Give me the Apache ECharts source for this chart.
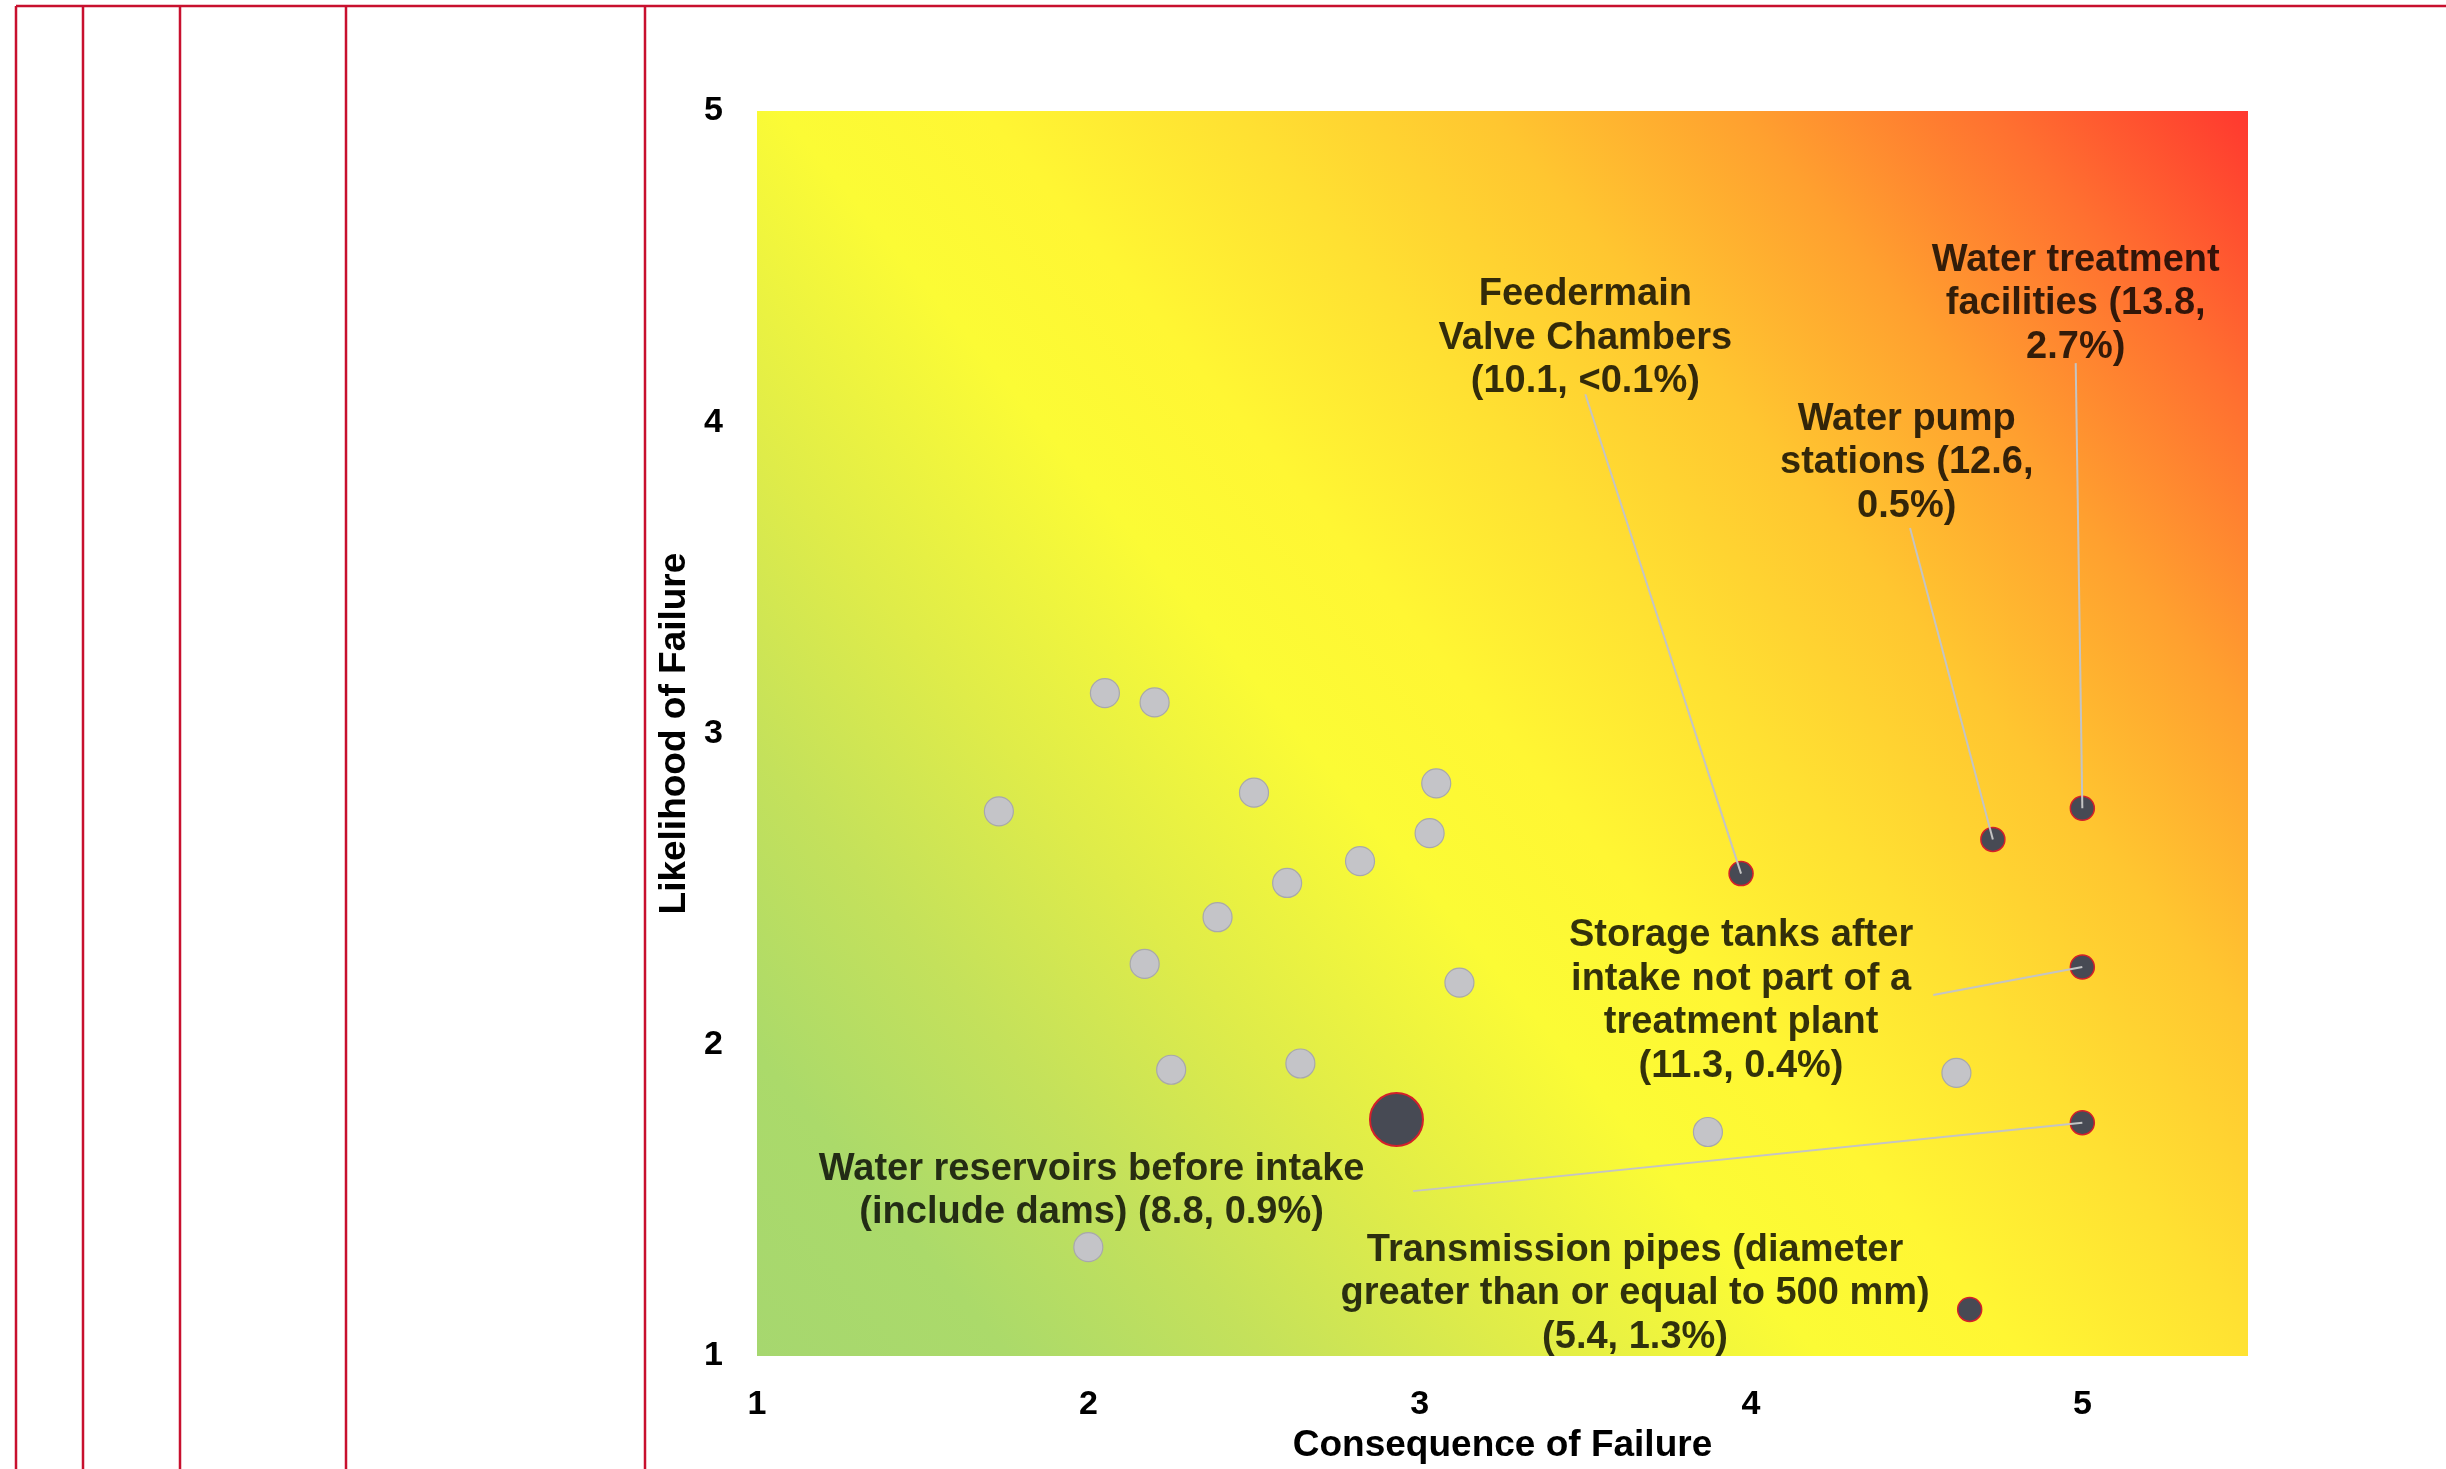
<!DOCTYPE html>
<html>
<head>
<meta charset="utf-8">
<script src="https://cdn.jsdelivr.net/npm/echarts@6/dist/echarts.min.js"></script>
<style>
html,body{margin:0;padding:0;background:#fff;}
#chart{width:2446px;height:1469px;}
</style>
</head>
<body>
<div id="chart"></div>
<script>
// ---- data ----
const xAxisTitle = 'Consequence of Failure';
const yAxisTitle = 'Likelihood of Failure';
const tickValues = [1, 2, 3, 4, 5];

// other assets (grey dots)
const otherX = [1.73, 2.05, 2.20, 2.50, 3.05, 3.03, 2.82, 2.60, 2.39, 2.17, 3.12, 2.25, 2.64, 3.87, 4.62, 2.00];
const otherY = [2.75, 3.13, 3.10, 2.81, 2.84, 2.68, 2.59, 2.52, 2.41, 2.26, 2.20, 1.92, 1.94, 1.72, 1.91, 1.35];

// highlighted assets (dark dots)
const keyNames = [
  'Feedermain\nValve Chambers\n(10.1, <0.1%)',
  'Water pump\nstations (12.6,\n0.5%)',
  'Water treatment\nfacilities (13.8,\n2.7%)',
  'Storage tanks after\nintake not part of a\ntreatment plant\n(11.3, 0.4%)',
  'Water reservoirs before intake\n(include dams) (8.8, 0.9%)',
  'Transmission pipes (diameter\ngreater than or equal to 500 mm)\n(5.4, 1.3%)'
];
const keyX = [3.97, 4.73, 5.00, 5.00, 5.00, 4.66];
const keyY = [2.55, 2.66, 2.76, 2.25, 1.75, 1.15];

// large highlighted asset
const bigX = [2.93];
const bigY = [1.76];

// ---- annotation placement (data coordinates) ----
const labelAnchorX = [3.50, 4.47, 4.98, 3.97, 2.01, 3.65];
const labelAnchorY = [4.27, 3.87, 4.38, 2.14, 1.53, 1.20];
const leaderStartX = [3.50, 4.48, 4.98, 4.55, 2.98, null];
const leaderStartY = [4.09, 3.66, 4.19, 2.16, 1.53, null];

const chart = echarts.init(document.getElementById('chart'), null, {renderer: 'canvas'});

const FONT = '"Liberation Sans", Arial, Helvetica, sans-serif';

const otherData = otherX.map((x, i) => [x, otherY[i]]);
const keyData = keyX.map((x, i) => [x, keyY[i]]);
const bigData = bigX.map((x, i) => [x, bigY[i]]);
const labelData = keyNames.map((n, i) => [labelAnchorX[i], labelAnchorY[i], n]);
const leaderData = [];
keyNames.forEach((n, i) => {
  if (leaderStartX[i] != null) {
    leaderData.push([{coord: [leaderStartX[i], leaderStartY[i]]}, {coord: [keyX[i], keyY[i]]}]);
  }
});

const bg = new echarts.graphic.LinearGradient(0, 1, 1, 0, [
  {offset: 0.00, color: '#a6d76f'},
  {offset: 0.10, color: '#abda6a'},
  {offset: 0.20, color: '#c4e15b'},
  {offset: 0.30, color: '#dfec49'},
  {offset: 0.42, color: '#fbfb35'},
  {offset: 0.50, color: '#fff633'},
  {offset: 0.60, color: '#ffe032'},
  {offset: 0.70, color: '#ffc630'},
  {offset: 0.80, color: '#ffa02f'},
  {offset: 0.90, color: '#ff7030'},
  {offset: 1.00, color: '#ff382f'}
]);

const red = '#c8102e';
const frameX = [16, 83, 180, 346, 645];
const graphics = frameX.map(x => ({
  type: 'line', silent: true,
  shape: {x1: x, y1: 6, x2: x, y2: 1469},
  style: {stroke: red, lineWidth: 2.5}
}));
graphics.push({type: 'line', silent: true, shape: {x1: 16, y1: 6, x2: 2446, y2: 6}, style: {stroke: red, lineWidth: 2.5}});

const option = {
  animation: false,
  backgroundColor: '#ffffff',
  graphic: graphics,
  grid: {
    left: 757, right: 198, top: 111, bottom: 104,
    show: true, backgroundColor: bg, borderWidth: 0
  },
  xAxis: {
    type: 'value', min: 1, max: 5.5, interval: 1,
    name: xAxisTitle, nameLocation: 'middle', nameGap: 70,
    nameTextStyle: {fontFamily: FONT, fontWeight: 'bold', fontSize: 37, color: '#000'},
    axisLine: {show: false}, axisTick: {show: false}, splitLine: {show: false},
    axisLabel: {
      fontFamily: FONT, fontWeight: 'bold', fontSize: 34, color: '#000', margin: 32,
      formatter: v => tickValues.includes(v) ? String(v) : ''
    }
  },
  yAxis: {
    type: 'value', min: 1, max: 5, interval: 1,
    name: yAxisTitle, nameLocation: 'middle', nameGap: 55,
    nameTextStyle: {fontFamily: FONT, fontWeight: 'bold', fontSize: 37, color: '#000'},
    axisLine: {show: false}, axisTick: {show: false}, splitLine: {show: false},
    axisLabel: {
      fontFamily: FONT, fontWeight: 'bold', fontSize: 34, color: '#000', margin: 34,
      formatter: v => tickValues.includes(v) ? String(v) : ''
    }
  },
  series: [
    {
      type: 'scatter', name: 'leaders', data: [], silent: true, z: 2,
      markLine: {
        silent: true, symbol: ['none', 'none'], animation: false,
        lineStyle: {color: '#c4c4c4', width: 2, type: 'solid'},
        label: {show: false},
        emphasis: {disabled: true},
        data: leaderData
      }
    },
    {
      type: 'scatter', name: 'Other assets', data: otherData, z: 3,
      symbol: 'circle', symbolSize: 29,
      itemStyle: {color: '#c4c4c8', borderColor: '#a8a8ab', borderWidth: 1.2, opacity: 1}
    },
    {
      type: 'scatter', name: 'Key assets', data: keyData, z: 4,
      symbol: 'circle', symbolSize: 24,
      itemStyle: {color: '#474a54', borderColor: '#d3202a', borderWidth: 1.5, opacity: 1}
    },
    {
      type: 'scatter', name: 'Large asset', data: bigData, z: 4,
      symbol: 'circle', symbolSize: 53,
      itemStyle: {color: '#474a54', borderColor: '#d3202a', borderWidth: 2, opacity: 1}
    },
    {
      type: 'scatter', name: 'labels', data: labelData, z: 5, silent: true,
      symbolSize: 0,
      label: {
        show: true, position: 'inside',
        formatter: p => p.data[2],
        fontFamily: FONT, fontWeight: 'bold', fontSize: 38, lineHeight: 43.5,
        color: '#000', align: 'center', verticalAlign: 'middle'
      }
    }
  ]
};
chart.setOption(option);
</script>
</body>
</html>
